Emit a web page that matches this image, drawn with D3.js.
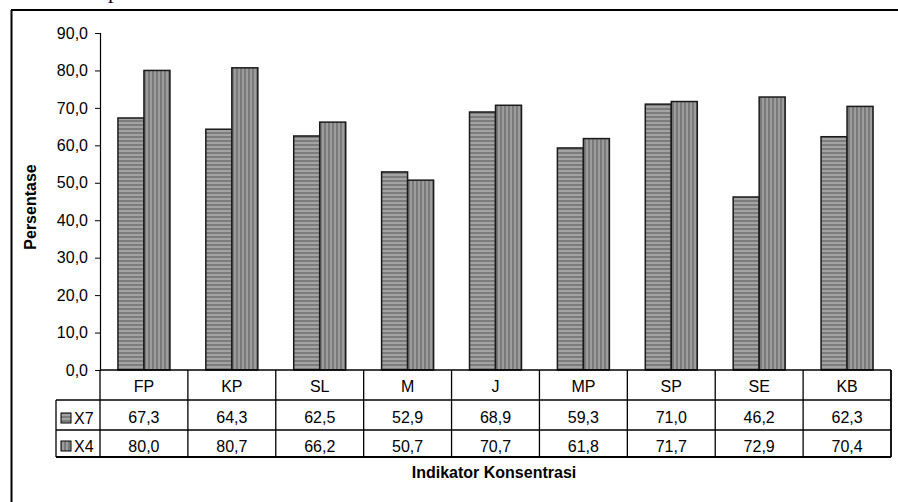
<!DOCTYPE html>
<html>
<head>
<meta charset="utf-8">
<script src="https://cdn.jsdelivr.net/npm/d3@7"></script>
<style>
html,body{margin:0;padding:0;background:#fff;}
svg{display:block;font-family:"Liberation Sans",Arial,sans-serif;}
</style>
</head>
<body>
<svg id="chart" width="898" height="502"></svg>
<script>
const categories = ["FP","KP","SL","M","J","MP","SP","SE","KB"];
const seriesNames = ["X7","X4"];
const x7Values = [67.3,64.3,62.5,52.9,68.9,59.3,71.0,46.2,62.3];
const x4Values = [80.0,80.7,66.2,50.7,70.7,61.8,71.7,72.9,70.4];
const yTicks = [0,10,20,30,40,50,60,70,80,90];
const yTitle = "Persentase";
const xTitle = "Indikator Konsentrasi";

const svg = d3.select("#chart");
const defs = svg.append("defs");

// horizontal stripes pattern (X7)
const ph = defs.append("pattern").attr("id","hstripe").attr("patternUnits","userSpaceOnUse")
  .attr("width",4).attr("height",4);
ph.append("rect").attr("width",4).attr("height",4).attr("fill","#a3a3a3");
ph.append("rect").attr("y",0).attr("width",4).attr("height",2).attr("fill","#7c7c7c");
// vertical stripes pattern (X4)
const pv = defs.append("pattern").attr("id","vstripe").attr("patternUnits","userSpaceOnUse")
  .attr("width",4).attr("height",4);
pv.append("rect").attr("width",4).attr("height",4).attr("fill","#9c9c9c");
pv.append("rect").attr("x",0).attr("width",2).attr("height",4).attr("fill","#7a7a7a");
const fills = ["url(#hstripe)","url(#vstripe)"];

// outer frame (extends past the right/bottom edges)
svg.append("line").attr("x1",11).attr("x2",898).attr("y1",10).attr("y2",10).attr("stroke","#000").attr("stroke-width",2);
svg.append("line").attr("x1",11.5).attr("x2",11.5).attr("y1",10).attr("y2",502).attr("stroke","#000").attr("stroke-width",2);
// clipped caption glyph at the very top (as in the reference)
svg.append("text").attr("x",108).attr("y",-2).attr("font-family","Liberation Serif, serif").attr("font-size",22).text("p");

const plotL = 100, plotR = 891, plotT = 33, plotB = 370;
const x = d3.scaleBand().domain(categories).range([plotL, plotR]).paddingInner(0).paddingOuter(0);
const y = d3.scaleLinear().domain([0,90]).range([plotB, plotT]);
const x1 = d3.scaleBand().domain(seriesNames).range([0, 52]);
const groupOffset = (x.bandwidth() - 52) / 2;

// bars
const data = [x7Values, x4Values];
seriesNames.forEach((s, si) => {
  svg.append("g").selectAll("rect").data(categories).join("rect")
    .attr("x", c => x(c) + groupOffset + x1(s))
    .attr("y", (c, i) => y(data[si][i]))
    .attr("width", x1.bandwidth())
    .attr("height", (c, i) => plotB - y(data[si][i]))
    .attr("fill", fills[si])
    .attr("stroke", "#1a1a1a").attr("stroke-width", 1.5);
});

// y axis
const fmt = v => d3.format(".1f")(v).replace(".", ",");
const yAxis = d3.axisLeft(y).tickValues(yTicks).tickFormat(fmt).tickSize(5).tickSizeOuter(5);
const ga = svg.append("g").attr("transform", `translate(${plotL},0)`).call(yAxis);
ga.select(".domain").attr("stroke","#000").attr("stroke-width",1.2);
ga.selectAll(".tick line").attr("stroke","#000");
ga.selectAll(".tick text").attr("font-size",16).attr("fill","#000").attr("x",-12)
  .attr("font-family","Liberation Sans, Arial, sans-serif");

svg.append("text").attr("transform","translate(36,207) rotate(-90)")
  .attr("text-anchor","middle").attr("font-size",16).attr("font-weight","bold").text(yTitle);

// data table
const rowBot = 457;
const legL = 56;
const tbl = svg.append("g").attr("stroke","#000").attr("stroke-width",1.3);
tbl.append("line").attr("x1",plotL).attr("x2",plotR).attr("y1",370).attr("y2",370);
tbl.append("line").attr("x1",legL).attr("x2",plotR).attr("y1",400).attr("y2",400);
tbl.append("line").attr("x1",legL).attr("x2",plotR).attr("y1",430).attr("y2",430);
tbl.append("line").attr("x1",legL).attr("x2",plotR).attr("y1",rowBot).attr("y2",rowBot).attr("stroke-width",1.8);
tbl.append("line").attr("x1",legL).attr("x2",legL).attr("y1",400).attr("y2",rowBot);
tbl.append("line").attr("x1",plotL).attr("x2",plotL).attr("y1",370).attr("y2",rowBot);
categories.forEach(c => {
  const xr = x(c) + x.bandwidth();
  tbl.append("line").attr("x1",xr).attr("x2",xr).attr("y1",370).attr("y2",rowBot)
    .attr("stroke-width", c === categories[categories.length-1] ? 1.8 : 1.3);
});

const tg = svg.append("g").attr("font-size",16).attr("text-anchor","middle").attr("fill","#000");
tg.selectAll("text.cat").data(categories).join("text").attr("class","cat")
  .attr("x", c => x(c) + x.bandwidth()/2).attr("y", 392).text(c => c);
data.forEach((vals, si) => {
  tg.append("g").selectAll("text").data(vals).join("text")
    .attr("x", (v, i) => x(categories[i]) + x.bandwidth()/2)
    .attr("y", si === 0 ? 423 : 452)
    .text(v => fmt(v));
});
// legend keys
seriesNames.forEach((s, si) => {
  const cy = si === 0 ? 418 : 446;
  svg.append("rect").attr("x",61).attr("y",cy-5).attr("width",10).attr("height",10)
    .attr("fill",fills[si]).attr("stroke","#000").attr("stroke-width",1);
  svg.append("text").attr("x",74).attr("y",cy+6).attr("font-size",16).text(s);
});

svg.append("text").attr("x",494).attr("y",478).attr("text-anchor","middle")
  .attr("font-size",16).attr("font-weight","bold").text(xTitle);
</script>
</body>
</html>
